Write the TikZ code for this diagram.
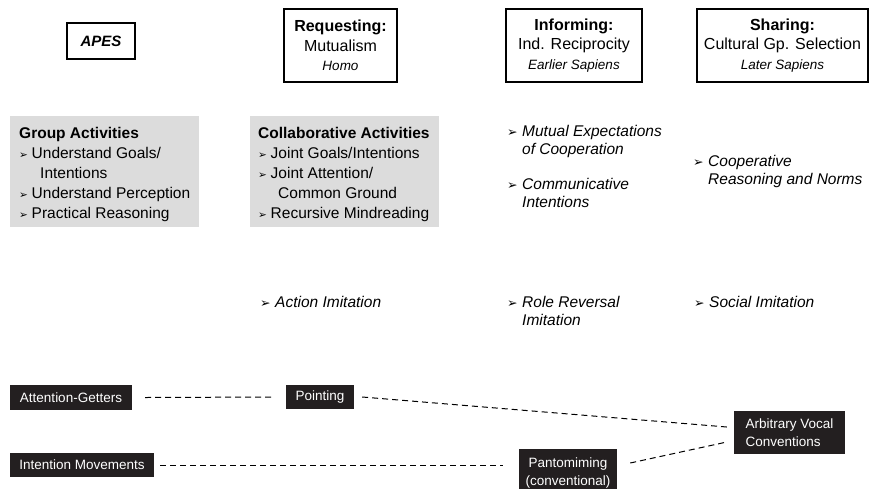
\documentclass[tikz,border=0pt]{standalone}
\usepackage{fontspec}
\setmainfont{Liberation Sans}
\newfontfamily\dvfont{DejaVu Sans}
\usetikzlibrary{calc}
\definecolor{boxblack}{HTML}{231F20}
\definecolor{boxgray}{HTML}{DCDCDC}
\newcommand{\sbul}{\makebox[12.5pt][l]{\raisebox{0.5pt}{\dvfont\fontsize{10.5}{10.5}\selectfont ➢}}}
\newcommand{\ibul}{\makebox[15pt][l]{\raisebox{0.3pt}{\dvfont\fontsize{12.5}{12.5}\selectfont ➢}}}
\tikzset{
  headbox/.style={draw, line width=1.2pt, align=center, inner sep=0pt,
    font=\fontsize{16}{19.5}\selectfont},
  graybox/.style={fill=boxgray, anchor=north west, inner sep=0pt},
  graytext/.style={anchor=north west, align=left, inner sep=0pt,
    font=\fontsize{15.5}{20}\selectfont},
  itemtext/.style={anchor=north west, align=left, inner sep=0pt,
    font=\fontsize{15.5}{18.5}\selectfont\itshape},
  blackbox/.style={fill=boxblack, text=white, inner sep=0pt,
    font=\fontsize{13.5}{18}\selectfont},
  link/.style={line width=1pt, dash pattern=on 6pt off 4pt}
}
\begin{document}
\begin{tikzpicture}[x=1pt,y=-1pt]
\useasboundingbox (0,0) rectangle (872,488);
% header boxes
\node[headbox, minimum width=68pt, minimum height=36pt, font=\fontsize{15}{18}\selectfont\bfseries\itshape] (apes) at (101,41) {APES};
\node[headbox, minimum width=113pt, minimum height=73pt] (req) at (340.5,45.5)
  {\textbf{Requesting:}\\Mutualism\\{\fontsize{13.5}{16}\selectfont\itshape Homo}};
\node[headbox, minimum width=136pt, minimum height=73pt] (inf) at (574,45.5)
  {\textbf{Informing:}\\Ind. Reciprocity\\{\fontsize{13.5}{16}\selectfont\itshape Earlier Sapiens}};
\node[headbox, minimum width=171pt, minimum height=73pt] (sha) at (782.5,45.5)
  {\textbf{Sharing:}\\Cultural Gp. Selection\\{\fontsize{13.5}{16}\selectfont\itshape Later Sapiens}};
% gray boxes
\node[graybox, minimum width=189pt, minimum height=111pt] (g1) at (10,116) {};
\node[graytext] (g1t) at (19,127.5)
  {\textbf{Group Activities}\\
   \sbul Understand Goals/\\
   \hspace*{21pt}Intentions\\
   \sbul Understand Perception\\
   \sbul Practical Reasoning};
\node[graybox, minimum width=189pt, minimum height=111pt] (g2) at (250,116) {};
\node[graytext] (g2t) at (258,127.5)
  {\textbf{Collaborative Activities}\\
   \sbul Joint Goals/Intentions\\
   \sbul Joint Attention/\\
   \hspace*{20pt}Common Ground\\
   \sbul Recursive Mindreading};
% italic items
\node[itemtext] (mut) at (507,125) {\ibul Mutual Expectations\\\hspace*{15pt}of Cooperation};
\node[itemtext] (com) at (507,178) {\ibul Communicative\\\hspace*{15pt}Intentions};
\node[itemtext] (coop) at (693,155) {\ibul Cooperative\\\hspace*{15pt}Reasoning and Norms};
\node[itemtext] (act) at (260,296) {\ibul Action Imitation};
\node[itemtext] (role) at (507,296) {\ibul Role Reversal\\\hspace*{15pt}Imitation};
\node[itemtext] (soc) at (694,296) {\ibul Social Imitation};
% black boxes
\node[blackbox, minimum width=122pt, minimum height=25pt] (ag) at (71,397.5) {Attention-Getters};
\node[blackbox, minimum width=68pt, minimum height=24pt] (pt) at (320,397) {Pointing};
\node[blackbox, minimum width=144pt, minimum height=24pt] (im) at (82,465) {Intention Movements};
\node[blackbox, minimum width=98pt, minimum height=48pt, align=center] (pan) at (568,473) {Pantomiming\\(conventional)};
\node[blackbox, minimum width=111pt, minimum height=43pt, align=left] (arb) at (789.5,432.5) {Arbitrary Vocal\\Conventions};
% connectors
\draw[link] ([xshift=13pt]ag.east) -- ([xshift=-14pt]pt.west);
\draw[link] ([xshift=8pt]pt.east) -- ([xshift=-7pt,yshift=5.5pt]arb.west);
\draw[link] ([xshift=6pt]im.east) -- ($(pan.west |- im.east)+(-16,0)$);
\draw[link] ([xshift=13pt,yshift=10pt]pan.east) -- ([xshift=-7pt,yshift=-9.5pt]arb.west);
\end{tikzpicture}
\end{document}
